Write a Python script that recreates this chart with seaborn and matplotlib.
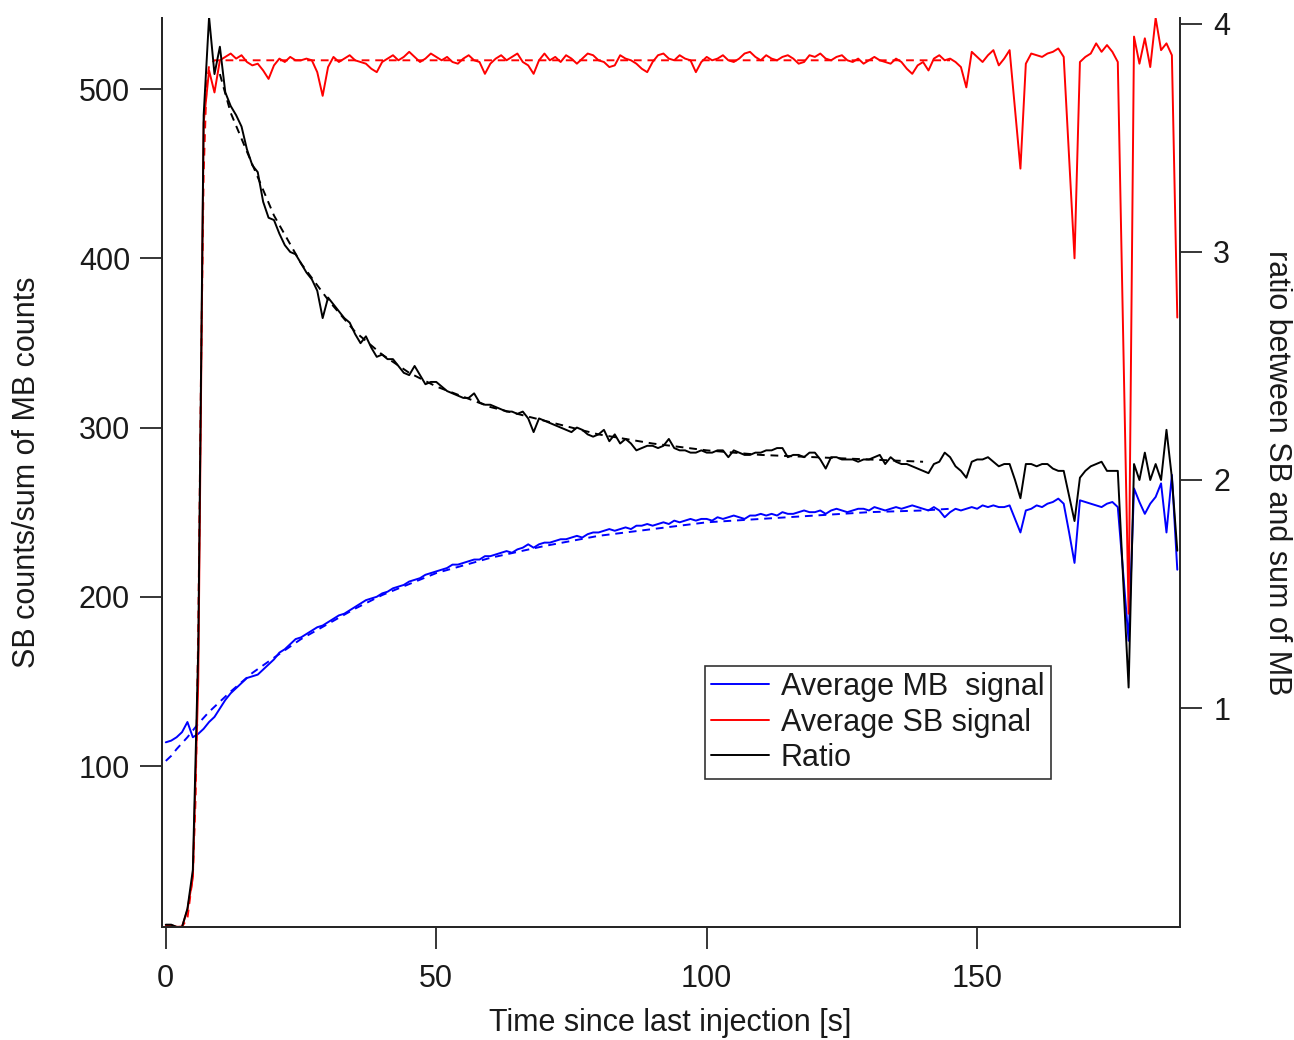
import numpy as np
import pandas as pd
import matplotlib
matplotlib.use('Agg')
import matplotlib.pyplot as plt
import seaborn as sns

# =========================
# DATA
# =========================

# time since last injection [s], one point per second
time_s = list(range(188))

# Average SB signal (left axis)
sb_signal = [
    6, 6, 5, 5, 15, 34, 150, 480, 511, 498,
    517, 519, 521, 518, 520, 516, 514, 515, 511, 506,
    514, 518, 516, 519, 517, 517, 518, 517, 510, 496,
    513, 519, 516, 518, 520, 517, 516, 515, 512, 510,
    516, 518, 520, 517, 519, 522, 519, 516, 518, 521,
    519, 517, 519, 516, 515, 518, 520, 517, 516, 509,
    515, 518, 520, 517, 519, 521, 516, 514, 509, 517,
    521, 517, 519, 516, 520, 518, 515, 518, 521, 520,
    517, 516, 513, 514, 520, 518, 517, 515, 512, 510,
    516, 520, 521, 518, 517, 520, 518, 517, 510, 516,
    519, 517, 518, 520, 517, 516, 518, 521, 522, 519,
    517, 520, 518, 517, 519, 520, 518, 515, 516, 520,
    519, 521, 518, 517, 519, 520, 517, 516, 518, 515,
    517, 519, 517, 516, 515, 518, 516, 512, 509, 514,
    516, 511, 518, 520, 517, 518, 516, 513, 501, 522,
    519, 516, 520, 523, 514, 518, 523, 488, 453, 515,
    521, 520, 519, 521, 522, 524, 519, 460, 400, 516,
    519, 521, 527, 522, 526, 522, 516, 353, 190, 531,
    515, 530, 513, 542, 523, 527, 520, 365,
]

# Average MB signal (left axis)
mb_signal = [
    114, 115, 117, 120, 126, 117, 119, 122, 126, 129,
    134, 139, 143, 146, 149, 152, 153, 154, 157, 160,
    163, 167, 169, 172, 175, 176, 178, 180, 182, 183,
    185, 187, 189, 190, 192, 194, 196, 198, 199, 200,
    202, 203, 205, 206, 207, 209, 210, 211, 213, 214,
    215, 216, 217, 219, 219, 220, 221, 222, 222, 224,
    224, 225, 226, 227, 226, 228, 229, 231, 229, 231,
    232, 232, 233, 234, 234, 235, 236, 235, 237, 238,
    238, 239, 240, 239, 240, 241, 240, 242, 242, 243,
    242, 243, 244, 243, 245, 244, 245, 246, 245, 246,
    246, 245, 247, 246, 247, 248, 247, 246, 248, 248,
    249, 248, 249, 248, 250, 249, 249, 250, 251, 250,
    250, 251, 249, 251, 252, 251, 250, 251, 252, 252,
    251, 253, 252, 251, 252, 253, 252, 253, 254, 253,
    252, 251, 253, 251, 247, 250, 252, 251, 252, 253,
    252, 254, 253, 254, 253, 253, 254, 246, 238, 251,
    252, 254, 253, 255, 256, 258, 255, 238, 220, 257,
    256, 255, 254, 253, 255, 256, 253, 214, 174, 264,
    256, 249, 255, 259, 267, 238, 272, 216,
]

# Ratio SB / sum of MB (right axis)
ratio = [
    0.05, 0.05, 0.04, 0.04, 0.12, 0.29, 1.26, 3.60, 4.03, 3.78,
    3.90, 3.70, 3.64, 3.60, 3.55, 3.45, 3.38, 3.35, 3.22, 3.15,
    3.14, 3.08, 3.03, 3.00, 2.99, 2.95, 2.91, 2.88, 2.83, 2.71,
    2.80, 2.77, 2.74, 2.71, 2.69, 2.64, 2.60, 2.63, 2.58, 2.54,
    2.55, 2.53, 2.53, 2.50, 2.47, 2.46, 2.50, 2.46, 2.42, 2.43,
    2.43, 2.41, 2.39, 2.38, 2.37, 2.36, 2.36, 2.38, 2.34, 2.33,
    2.33, 2.32, 2.31, 2.30, 2.30, 2.29, 2.30, 2.27, 2.21, 2.27,
    2.26, 2.25, 2.24, 2.23, 2.22, 2.21, 2.23, 2.22, 2.20, 2.19,
    2.20, 2.22, 2.17, 2.20, 2.16, 2.18, 2.16, 2.13, 2.14, 2.15,
    2.15, 2.14, 2.15, 2.18, 2.14, 2.13, 2.13, 2.12, 2.12, 2.13,
    2.12, 2.12, 2.13, 2.13, 2.10, 2.13, 2.12, 2.11, 2.11, 2.12,
    2.12, 2.13, 2.13, 2.14, 2.14, 2.10, 2.11, 2.11, 2.10, 2.12,
    2.12, 2.09, 2.05, 2.10, 2.10, 2.09, 2.09, 2.09, 2.08, 2.09,
    2.09, 2.10, 2.11, 2.07, 2.10, 2.08, 2.07, 2.07, 2.06, 2.05,
    2.04, 2.03, 2.07, 2.08, 2.12, 2.10, 2.06, 2.04, 2.01, 2.08,
    2.09, 2.09, 2.10, 2.08, 2.06, 2.07, 2.07, 2.00, 1.92, 2.07,
    2.07, 2.06, 2.07, 2.07, 2.05, 2.04, 2.04, 1.93, 1.82, 2.01,
    2.04, 2.06, 2.07, 2.08, 2.04, 2.04, 2.04, 1.56, 1.09, 2.07,
    2.00, 2.12, 2.00, 2.07, 2.00, 2.22, 2.01, 1.69,
]

# fitted curves (dashed)
fit_mb_t = [0, 1, 2, 4, 6, 8, 10, 12, 16, 20, 25, 30, 35, 40, 50, 60, 70, 80, 90, 100, 110, 120, 130, 140, 145]
fit_mb = [103, 106, 110, 117, 125, 132, 138, 144, 155, 164, 175, 184, 193, 201, 214, 223, 230, 236, 240, 244, 246, 248, 250, 251, 252]

fit_sb_t = [0, 3, 4, 5, 5.5, 6, 6.5, 7, 7.5, 8, 9, 145]
fit_sb = [5, 5, 10, 35, 80, 180, 330, 450, 500, 514, 517, 517]

fit_ratio_t = [10, 12, 15, 20, 25, 30, 35, 40, 45, 50, 60, 70, 80, 90, 100, 110, 120, 130, 140]
fit_ratio = [3.78, 3.61, 3.44, 3.16, 2.95, 2.79, 2.65, 2.55, 2.47, 2.41, 2.32, 2.26, 2.20, 2.16, 2.13, 2.11, 2.10, 2.09, 2.08]

legend_labels = ['Average MB  signal', 'Average SB signal', 'Ratio']

# =========================
# STYLE
# =========================

sns.set_style('ticks')
plt.rcParams['font.family'] = ['Liberation Sans', 'DejaVu Sans']
plt.rcParams['axes.linewidth'] = 1.4

blue = '#0000ff'
red = '#ff0000'
black = '#000000'
lw = 1.4
fs = 22

fig = plt.figure(figsize=(12.94, 10.40), dpi=100)
ax = fig.add_axes([0.1252, 0.1087, 0.7867, 0.874])
ax2 = ax.twinx()

# =========================
# LINES
# =========================

sns.lineplot(x=time_s, y=mb_signal, ax=ax, color=blue, linewidth=lw, label=legend_labels[0])
sns.lineplot(x=time_s, y=sb_signal, ax=ax, color=red, linewidth=lw, label=legend_labels[1])
sns.lineplot(x=fit_mb_t, y=fit_mb, ax=ax, color=blue, linewidth=lw, linestyle=(0, (4, 3)))
sns.lineplot(x=fit_sb_t, y=fit_sb, ax=ax, color=red, linewidth=lw, linestyle=(0, (4, 3)))

sns.lineplot(x=time_s, y=ratio, ax=ax2, color=black, linewidth=lw, label=legend_labels[2])
sns.lineplot(x=fit_ratio_t, y=fit_ratio, ax=ax2, color=black, linewidth=lw, linestyle=(0, (4, 3)))

# =========================
# AXES
# =========================

ax.set_xlim(-0.7, 187.5)
ax.set_ylim(4.9, 542)
ax2.set_ylim(0.04, 4.026)

ax.set_xticks([0, 50, 100, 150])
ax.set_yticks([100, 200, 300, 400, 500])
ax2.set_yticks([1, 2, 3, 4])

for a in (ax, ax2):
    a.spines['top'].set_visible(False)
    a.tick_params(direction='out', length=16, width=1.1, labelsize=fs, color='black', labelcolor='#1a1a1a')
ax.tick_params(axis='y', pad=7)
ax.tick_params(axis='x', pad=11)
ax2.tick_params(axis='y', pad=8)
ax.spines['right'].set_visible(False)
ax2.spines['right'].set_visible(True)

ax.set_xlabel('Time since last injection [s]', fontsize=fs, color='#1a1a1a')
ax.set_ylabel('SB counts/sum of MB counts', fontsize=fs, color='#1a1a1a')
ax2.set_ylabel('ratio between SB and sum of MB', fontsize=fs, color='#1a1a1a', rotation=270)

ax.xaxis.set_label_coords(0.499, -0.106)
ax.xaxis.label.set_va('center')
ax.yaxis.set_label_coords(-0.133, 0.5)
ax.yaxis.label.set_va('center')
ax2.yaxis.set_label_coords(1.095, 0.5)
ax2.yaxis.label.set_va('center')

# =========================
# LEGEND
# =========================

h1, l1 = ax.get_legend_handles_labels()
h2, l2 = ax2.get_legend_handles_labels()
if ax2.get_legend() is not None:
    ax2.get_legend().remove()
leg = ax.legend(h1 + h2, l1 + l2, loc='upper left', bbox_to_anchor=(0.533, 0.287),
                fontsize=fs, frameon=True, fancybox=False, edgecolor='black',
                handlelength=1.9, handletextpad=0.4, labelspacing=0.18,
                borderpad=0.2, borderaxespad=0)
leg.get_frame().set_linewidth(1.2)
for t in leg.get_texts():
    t.set_color('#1a1a1a')

plt.savefig('out.png', dpi=100)
